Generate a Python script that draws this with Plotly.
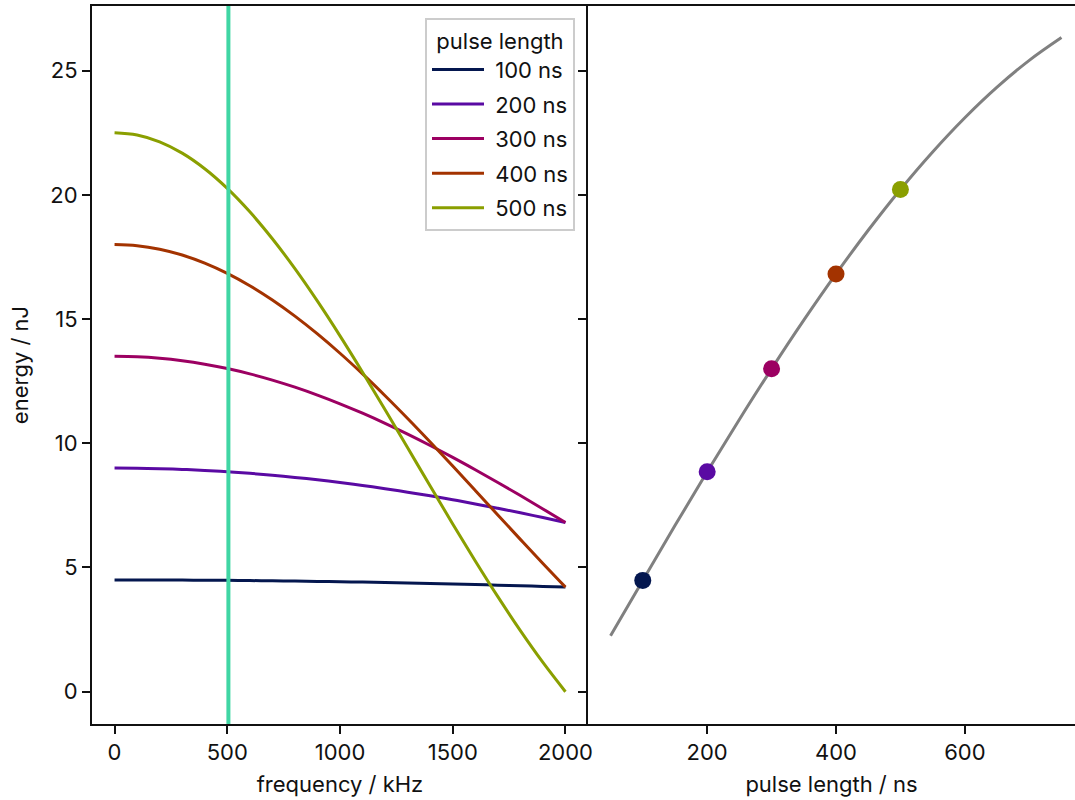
import plotly.graph_objects as go

# ---- data ----
freq_khz = [0, 100, 200, 300, 400, 500, 600, 700, 800, 900, 1000,
            1100, 1200, 1300, 1400, 1500, 1600, 1700, 1800, 1900, 2000]
pulse_labels = ["100 ns", "200 ns", "300 ns", "400 ns", "500 ns"]
pulse_lengths_ns = [100, 200, 300, 400, 500]

energy_100ns = [4.500, 4.499, 4.497, 4.493, 4.488, 4.482, 4.473, 4.464, 4.453, 4.440, 4.426,
                4.411, 4.394, 4.376, 4.356, 4.335, 4.313, 4.289, 4.264, 4.238, 4.210]
energy_200ns = [9.000, 8.994, 8.976, 8.947, 8.906, 8.853, 8.788, 8.713, 8.626, 8.528, 8.419,
                8.300, 8.171, 8.032, 7.883, 7.726, 7.559, 7.384, 7.200, 7.009, 6.811]
energy_300ns = [13.500, 13.480, 13.420, 13.321, 13.182, 13.006, 12.792, 12.542, 12.257, 11.938, 11.588,
                11.209, 10.801, 10.367, 9.910, 9.432, 8.935, 8.422, 7.895, 7.357, 6.811]
energy_400ns = [18.000, 17.953, 17.811, 17.577, 17.252, 16.839, 16.342, 15.767, 15.118, 14.401, 13.623,
                12.791, 11.913, 10.997, 10.050, 9.082, 8.101, 7.114, 6.132, 5.161, 4.210]
energy_500ns = [22.500, 22.408, 22.132, 21.677, 21.049, 20.257, 19.314, 18.232, 17.029, 15.720, 14.324,
                12.861, 11.352, 9.817, 8.277, 6.752, 5.262, 3.825, 2.459, 1.179, 0.000]
energies = [energy_100ns, energy_200ns, energy_300ns, energy_400ns, energy_500ns]

marker_freq_khz = 505

curve_pulse_ns = [50, 100, 150, 200, 250, 300, 350, 400, 450, 500, 550, 600, 650, 700, 750]
curve_energy = [2.248, 4.481, 6.686, 8.850, 10.957, 12.996, 14.953, 16.816, 18.573, 20.215,
                21.726, 23.103, 24.335, 25.413, 26.331]
dot_energy = [4.481, 8.850, 12.996, 16.816, 20.215]

colors = ["#04174f", "#5a0aa3", "#9c0062", "#a33300", "#8a9f00"]
vline_color = "#40d6a4"
curve_color = "#808080"

FONT = "Inter"
FS = 22
INK = "#111111"

fig = go.Figure()

for i, (lab, e) in enumerate(zip(pulse_labels, energies)):
    fig.add_trace(go.Scatter(
        x=freq_khz, y=e, mode="lines", name="\u00a0" + lab,
        line=dict(color=colors[i], width=3, shape="spline"),
        xaxis="x", yaxis="y", legendgroup=lab, showlegend=True))

fig.add_shape(type="line", xref="x", yref="y domain",
              x0=marker_freq_khz, x1=marker_freq_khz, y0=0, y1=1,
              line=dict(color=vline_color, width=4), layer="above")

fig.add_trace(go.Scatter(
    x=curve_pulse_ns, y=curve_energy, mode="lines",
    line=dict(color=curve_color, width=3, shape="spline"),
    xaxis="x2", yaxis="y2", showlegend=False))

fig.add_trace(go.Scatter(
    x=pulse_lengths_ns, y=dot_energy, mode="markers",
    marker=dict(color=colors, size=17, line=dict(width=0)),
    xaxis="x2", yaxis="y2", showlegend=False))

split = (588 - 92) / 983

axis_common = dict(
    showgrid=False, zeroline=False, showline=True, linecolor=INK, linewidth=2,
    ticks="outside", ticklen=8, tickwidth=2, tickcolor=INK, automargin=False,
    tickfont=dict(family=FONT, size=FS, color=INK),
)
title_font = dict(family=FONT, size=FS, color=INK)

fig.update_layout(
    width=1075, height=800,
    margin=dict(l=92, r=0, t=6, b=76, autoexpand=False),
    paper_bgcolor="white", plot_bgcolor="white",
    font=dict(family=FONT, size=FS, color=INK),
    xaxis=dict(domain=[0, split], range=[-100, 2100], anchor="y",
               tickvals=[0, 500, 1000, 1500, 2000], mirror=True,
               title=dict(text="frequency / kHz", font=title_font, standoff=12),
               **axis_common),
    yaxis=dict(range=[-1.3, 27.6], anchor="x", tickvals=[0, 5, 10, 15, 20, 25], mirror=False,
               title=dict(text="energy / nJ", font=title_font, standoff=16),
               **axis_common),
    xaxis2=dict(domain=[split, 1], range=[15, 771], anchor="y2",
                tickvals=[200, 400, 600], mirror=True,
                title=dict(text="pulse length / ns", font=title_font, standoff=12),
                **axis_common),
    yaxis2=dict(range=[-1.3, 27.6], anchor="x2", matches="y", tickvals=[0, 5, 10, 15, 20, 25],
                showticklabels=False, **axis_common),
    legend=dict(
        x=(575 - 92) / 983, xanchor="right", y=1 - (18 - 6) / 718, yanchor="top",
        bgcolor="rgba(255,255,255,0.85)", bordercolor="#cccccc", borderwidth=2,
        font=dict(family=FONT, size=FS, color=INK),
        title=dict(text="pulse length", side="top center", font=title_font),
        tracegroupgap=3, itemwidth=52,
    ),
)

fig.write_html("out.html")
